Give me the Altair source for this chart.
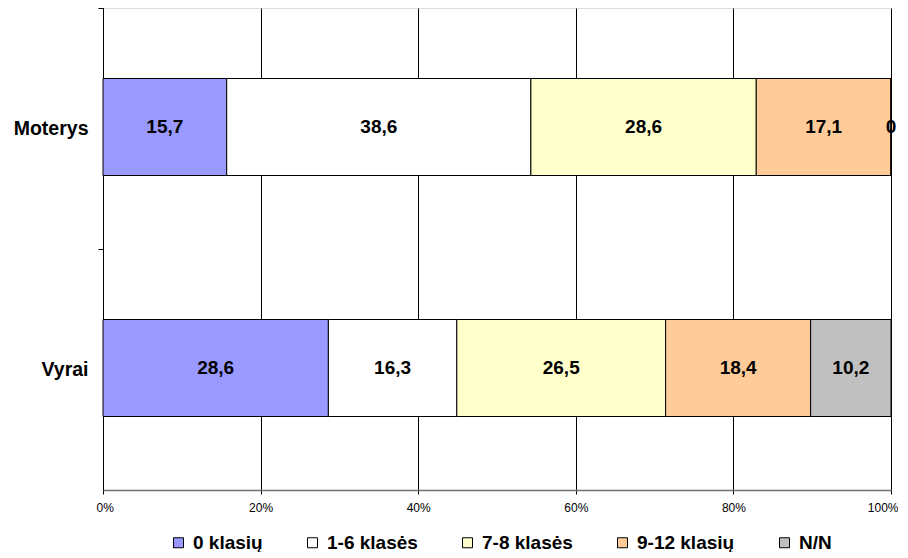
import altair as alt
import pandas as pd

groups = ["Moterys", "Vyrai"]
categories = ["0 klasių", "1-6 klasės", "7-8 klasės", "9-12 klasių", "N/N"]
colors = ["#9999FF", "#FFFFFF", "#FFFFCC", "#FFCC99", "#C0C0C0"]
moterys = [15.7, 38.6, 28.6, 17.1, 0.0]
vyrai = [28.6, 16.3, 26.5, 18.4, 10.2]

rows = []
for g, vals in zip(groups, [moterys, vyrai]):
    for i, (c, v) in enumerate(zip(categories, vals)):
        rows.append({"grupe": g, "kat": c, "ord": i, "v": v,
                     "lbl": f"{v:g}".replace(".", ",")})
df = pd.DataFrame(rows)

FONT = "Liberation Sans"

y_enc = alt.Y("grupe:N", sort=groups, title=None,
              scale=alt.Scale(paddingInner=0, paddingOuter=0),
              axis=alt.Axis(labelFont=FONT, labelFontSize=19.5, labelFontWeight="bold",
                            labelColor="black", domainColor="black", tickColor="black",
                            tickSize=5, labelPadding=10, bandPosition=0, grid=False))
x_scale = alt.Scale(domain=[0, 100], nice=False)

bars = alt.Chart(df).mark_bar(size=97, stroke="black", strokeWidth=1, yOffset=-1.5).encode(
    x=alt.X("v:Q", stack="zero", scale=x_scale, title=None,
            axis=alt.Axis(values=[0, 20, 40, 60, 80, 100], labelExpr="datum.value + '%'",
                          labelFont=FONT, labelFontSize=12, labelColor="black",
                          labelFlush=True, labelFlushOffset=7,
                          domainColor="#707070", domainWidth=1.5,
                          tickColor="black", tickSize=4,
                          labelPadding=8, grid=True, gridColor="black", gridOpacity=1,
                          gridWidth=1)),
    y=y_enc,
    color=alt.Color("kat:N", sort=categories,
                    scale=alt.Scale(domain=categories, range=colors),
                    legend=alt.Legend(title=None, orient="none", direction="horizontal",
                                      legendX=66, legendY=525,
                                      symbolType="square", symbolSize=100,
                                      symbolStrokeColor="black", symbolStrokeWidth=1,
                                      labelFont=FONT, labelFontSize=19, labelFontWeight="bold",
                                      labelColor="black", columnPadding=40,
                                      labelOffset=5)),
    order=alt.Order("ord:Q"),
)

text = alt.Chart(df).transform_window(
    cum="sum(v)", groupby=["grupe"], sort=[alt.SortField("ord")]
).transform_calculate(
    mid="datum.cum - datum.v / 2"
).mark_text(font=FONT, fontSize=19, fontWeight="bold", color="black", yOffset=-1.5).encode(
    x=alt.X("mid:Q", scale=x_scale),
    y=alt.Y("grupe:N", sort=groups),
    text="lbl:N",
)

chart = alt.layer(bars, text).properties(
    width=788, height=482,
    autosize=alt.AutoSizeParams(type="none"),
    padding={"left": 95, "top": 0, "right": 7, "bottom": 62},
).configure_view(stroke=None).configure(background="white")

chart.save("out.html", embed_options={"renderer": "svg", "actions": False})
